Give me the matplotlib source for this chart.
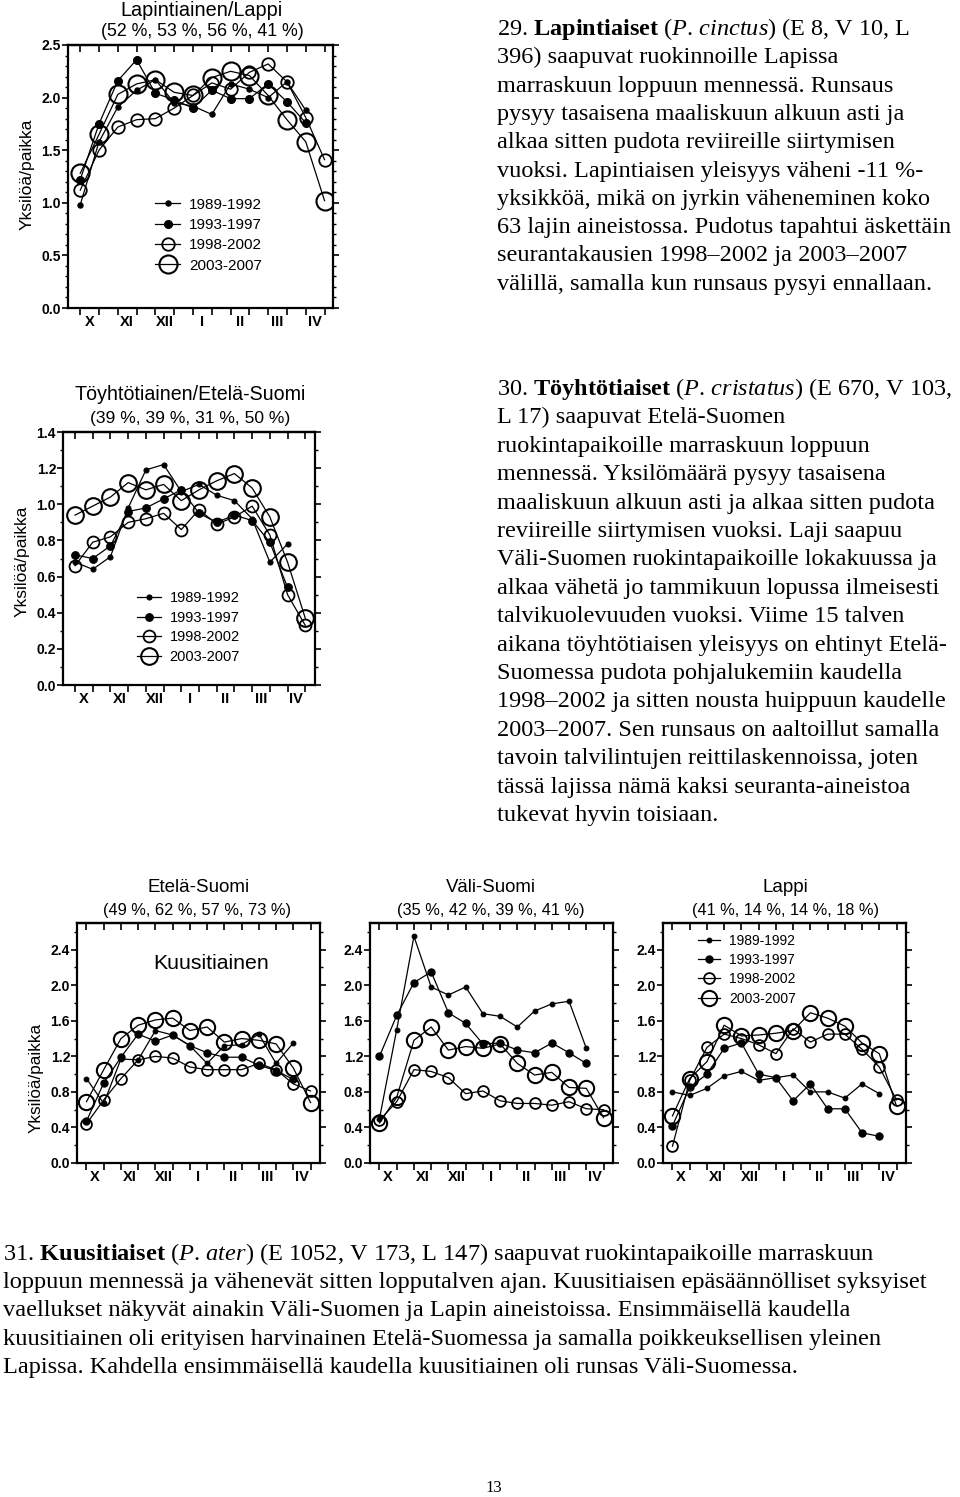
import numpy as np
import matplotlib
matplotlib.use('Agg')
import matplotlib.pyplot as plt

plt.rcParams['font.family'] = ['Liberation Sans', 'DejaVu Sans']
plt.rcParams['mathtext.fontset'] = 'custom'
plt.rcParams['mathtext.rm'] = 'Liberation Serif'
plt.rcParams['mathtext.it'] = 'Liberation Serif:italic'
plt.rcParams['mathtext.bf'] = 'Liberation Serif:bold'

# ---------------- data ----------------
months = ['X', 'XI', 'XII', 'I', 'II', 'III', 'IV']
periods = [f'{m}/{h}' for m in months for h in (1, 2)]   # 14 half-month periods
series_names = ['1989-1992', '1993-1997', '1998-2002', '2003-2007']

# Lapintiainen / Lappi
lap_title = 'Lapintiainen/Lappi'
lap_pct = '(52 %, 53 %, 56 %, 41 %)'
lap_8992 = [0.98, 1.58, 1.91, 2.07, 2.17, 1.95, 1.92, 1.84, 2.13, 2.08, 2.00, 2.15, 1.88]
lap_9397 = [1.22, 1.75, 2.16, 2.36, 2.04, 1.98, 1.90, 2.07, 1.99, 1.99, 2.13, 1.96, 1.76]
lap_9802 = [1.12, 1.50, 1.72, 1.79, 1.80, 1.90, 2.02, 2.14, 2.08, 2.24, 2.32, 2.15, 1.81, 1.41]
lap_0307 = [1.28, 1.65, 2.03, 2.13, 2.17, 2.05, 2.02, 2.19, 2.25, 2.21, 2.02, 1.79, 1.58, 1.02]

# Töyhtötiainen / Etelä-Suomi
toy_title = 'Töyhtötiainen/Etelä-Suomi'
toy_pct = '(39 %, 39 %, 31 %, 50 %)'
toy_8992 = [0.68, 0.64, 0.71, 0.98, 1.19, 1.22, 1.07, 1.11, 1.05, 1.02, 0.92, 0.68, 0.78]
toy_9397 = [0.72, 0.70, 0.77, 0.96, 0.98, 1.03, 1.08, 0.95, 0.90, 0.94, 0.91, 0.79, 0.54]
toy_9802 = [0.66, 0.79, 0.82, 0.90, 0.92, 0.95, 0.86, 0.97, 0.89, 0.93, 0.99, 0.83, 0.50, 0.33]
toy_0307 = [0.94, 0.99, 1.04, 1.12, 1.08, 1.11, 1.02, 1.08, 1.13, 1.17, 1.09, 0.93, 0.68, 0.37]

# Kuusitiainen
kuu_label = 'Kuusitiainen'
kuu_e_title = 'Etelä-Suomi'
kuu_e_pct = '(49 %, 62 %, 57 %, 73 %)'
kuu_e_8992 = [0.95, 0.67, 1.17, 1.16, 1.49, 1.44, 1.32, 1.12, 1.32, 1.33, 1.45, 1.12, 1.35]
kuu_e_9397 = [0.47, 0.90, 1.19, 1.45, 1.37, 1.44, 1.32, 1.24, 1.19, 1.19, 1.10, 1.04, 0.94]
kuu_e_9802 = [0.44, 0.71, 0.95, 1.16, 1.20, 1.18, 1.08, 1.05, 1.05, 1.05, 1.12, 1.05, 0.89, 0.81]
kuu_e_0307 = [0.69, 1.05, 1.40, 1.55, 1.61, 1.63, 1.49, 1.53, 1.36, 1.40, 1.38, 1.34, 1.07, 0.68]

kuu_v_title = 'Väli-Suomi'
kuu_v_pct = '(35 %, 42 %, 39 %, 41 %)'
kuu_v_8992 = [0.50, 1.50, 2.55, 1.98, 1.89, 1.98, 1.68, 1.65, 1.53, 1.71, 1.79, 1.82, 1.29]
kuu_v_9397 = [1.20, 1.66, 2.03, 2.15, 1.69, 1.57, 1.34, 1.35, 1.27, 1.24, 1.35, 1.24, 1.12]
kuu_v_9802 = [0.48, 0.69, 1.05, 1.03, 0.96, 0.78, 0.81, 0.70, 0.67, 0.67, 0.65, 0.69, 0.61, 0.60]
kuu_v_0307 = [0.45, 0.74, 1.38, 1.53, 1.27, 1.31, 1.29, 1.34, 1.12, 0.99, 1.02, 0.85, 0.84, 0.51]

kuu_l_title = 'Lappi'
kuu_l_pct = '(41 %, 14 %, 14 %, 18 %)'
kuu_l_8992 = [0.80, 0.76, 0.84, 0.98, 1.03, 0.93, 0.96, 0.99, 0.80, 0.80, 0.73, 0.89, 0.78]
kuu_l_9397 = [0.42, 0.85, 1.00, 1.29, 1.35, 1.00, 0.96, 0.70, 0.89, 0.61, 0.61, 0.34, 0.30]
kuu_l_9802 = [0.19, 0.93, 1.30, 1.45, 1.40, 1.33, 1.23, 1.51, 1.36, 1.45, 1.45, 1.28, 1.08, 0.71]
kuu_l_0307 = [0.53, 0.95, 1.14, 1.55, 1.43, 1.44, 1.46, 1.49, 1.69, 1.63, 1.54, 1.35, 1.23, 0.64]

ylabel_text = 'Yksilöä/paikka'

text29 = [
    r'29. $\mathbf{Lapintiaiset}$ ($\mathit{P.}\,\mathit{cinctus}$) (E 8, V 10, L',
    '396) saapuvat ruokinnoille Lapissa',
    'marraskuun loppuun mennessä. Runsaus',
    'pysyy tasaisena maaliskuun alkuun asti ja',
    'alkaa sitten pudota reviireille siirtymisen',
    'vuoksi. Lapintiaisen yleisyys väheni -11 %-',
    'yksikköä, mikä on jyrkin väheneminen koko',
    '63 lajin aineistossa. Pudotus tapahtui äskettäin',
    'seurantakausien 1998–2002 ja 2003–2007',
    'välillä, samalla kun runsaus pysyi ennallaan.',
]
text30 = [
    r'30. $\mathbf{Töyhtötiaiset}$ ($\mathit{P.}\,\mathit{cristatus}$) (E 670, V 103,',
    'L 17) saapuvat Etelä-Suomen',
    'ruokintapaikoille marraskuun loppuun',
    'mennessä. Yksilömäärä pysyy tasaisena',
    'maaliskuun alkuun asti ja alkaa sitten pudota',
    'reviireille siirtymisen vuoksi. Laji saapuu',
    'Väli-Suomen ruokintapaikoille lokakuussa ja',
    'alkaa vähetä jo tammikuun lopussa ilmeisesti',
    'talvikuolevuuden vuoksi. Viime 15 talven',
    'aikana töyhtötiaisen yleisyys on ehtinyt Etelä-',
    'Suomessa pudota pohjalukemiin kaudella',
    '1998–2002 ja sitten nousta huippuun kaudelle',
    '2003–2007. Sen runsaus on aaltoillut samalla',
    'tavoin talvilintujen reittilaskennoissa, joten',
    'tässä lajissa nämä kaksi seuranta-aineistoa',
    'tukevat hyvin toisiaan.',
]
text31 = [
    r'31. $\mathbf{Kuusitiaiset}$ ($\mathit{P.}\,\mathit{ater}$) (E 1052, V 173, L 147) saapuvat ruokintapaikoille marraskuun',
    'loppuun mennessä ja vähenevät sitten lopputalven ajan. Kuusitiaisen epäsäännölliset syksyiset',
    'vaellukset näkyvät ainakin Väli-Suomen ja Lapin aineistoissa. Ensimmäisellä kaudella',
    'kuusitiainen oli erityisen harvinainen Etelä-Suomessa ja samalla poikkeuksellisen yleinen',
    'Lapissa. Kahdella ensimmäisellä kaudella kuusitiainen oli runsas Väli-Suomessa.',
]
page_no = '13'

# ---------------- figure ----------------
W, H = 960, 1497
fig = plt.figure(figsize=(W / 100, H / 100), dpi=100)


def px_axes(left, right, top, bottom):
    return fig.add_axes([left / W, 1 - bottom / H, (right - left) / W, (bottom - top) / H])


def draw_chart(ax, data, xlim, ylim, ymajor, yminor, msizes, legend_at=None, legend_fs=10.5,
               legend_spacing=0.45):
    styles = [
        dict(marker='o', ms=msizes[0], mfc='black', mec='black', mew=0.8),
        dict(marker='o', ms=msizes[1], mfc='black', mec='black', mew=0.8),
        dict(marker='o', ms=msizes[2], mfc='none', mec='black', mew=1.3),
        dict(marker='o', ms=msizes[3], mfc='none', mec='black', mew=1.5),
    ]
    for vals, name, st in zip(data, series_names, styles):
        xs = np.arange(len(vals))
        ax.plot(xs, vals, color='black', lw=0.9, label=name, **st)
    ax.set_xlim(*xlim)
    ax.set_ylim(*ylim)
    for s in ax.spines.values():
        s.set_linewidth(1.6)
    # bottom ticks at every half-month, month labels between the pairs
    ax.set_xticks(np.arange(len(periods)))
    ax.set_xticklabels([])
    ax.set_xticks(np.arange(len(months)) * 2 + 0.5, labels=months, minor=True,
                  fontweight='bold', fontsize=10.5)
    ax.tick_params(axis='x', which='major', direction='out', length=5, width=1.2)
    ax.tick_params(axis='x', which='minor', length=0, pad=5)
    # y ticks
    yt = np.arange(0, ylim[1] + 1e-9, ymajor)
    ax.set_yticks(yt, labels=[f'{v:.1f}' for v in yt], fontweight='bold', fontsize=10)
    ax.set_yticks(np.arange(0, ylim[1] + 1e-9, yminor), minor=True)
    ax.tick_params(axis='y', which='major', direction='out', length=4, width=1.2, pad=1,
                   right=True)
    ax.tick_params(axis='y', which='minor', direction='out', length=2.5, width=1.0, right=True)
    # top ticks pointing inwards
    sec = ax.secondary_xaxis('top')
    sec.set_xticks(np.arange(len(periods)))
    sec.set_xticklabels([])
    sec.tick_params(direction='in', length=5, width=1.2)
    sec.spines['top'].set_linewidth(1.6)
    if legend_at is not None:
        ax.legend(loc='upper left', bbox_to_anchor=legend_at, frameon=False,
                  fontsize=legend_fs, handlelength=1.6, handletextpad=0.6,
                  labelspacing=legend_spacing, borderpad=0, borderaxespad=0)


def ftext(x, y, s, **kw):
    fig.text(x / W, 1 - y / H, s, **kw)


# Chart 1
ax1 = px_axes(68, 333, 45, 308)
draw_chart(ax1, [lap_8992, lap_9397, lap_9802, lap_0307], (-0.65, 13.45), (0, 2.5), 0.5, 0.1,
           [3.8, 5.7, 9.0, 13.0], legend_at=(0.33, 0.42), legend_fs=11, legend_spacing=0.42)
ftext(202, 11, lap_title, ha='center', va='center', fontsize=14.3)
ftext(202, 32, lap_pct, ha='center', va='center', fontsize=12.8)
ftext(27, 174, ylabel_text, ha='center', va='center', rotation=90, fontsize=12.6)

# Chart 2
ax2 = px_axes(63, 315, 432, 685)
draw_chart(ax2, [toy_8992, toy_9397, toy_9802, toy_0307], (-0.68, 13.55), (0, 1.4), 0.2, 0.1,
           [3.6, 5.5, 8.6, 12.0], legend_at=(0.295, 0.37), legend_fs=10.5, legend_spacing=0.38)
ftext(190, 395, toy_title, ha='center', va='center', fontsize=14.1)
ftext(190, 418, toy_pct, ha='center', va='center', fontsize=12.6)
ftext(22, 561, ylabel_text, ha='center', va='center', rotation=90, fontsize=12.6)

# Bottom row
bottom_msz = [3.4, 5.2, 7.8, 11.0]
ax3 = px_axes(77, 320, 923, 1163)
draw_chart(ax3, [kuu_e_8992, kuu_e_9397, kuu_e_9802, kuu_e_0307], (-0.55, 13.55), (0, 2.7),
           0.4, 0.2, bottom_msz)
ax3.text(0.55, 0.83, kuu_label, transform=ax3.transAxes, ha='center', va='center', fontsize=15.3)
ftext(199, 888, kuu_e_title, ha='center', va='center', fontsize=13.5)
ftext(197, 911, kuu_e_pct, ha='center', va='center', fontsize=11.8)
ftext(36, 1078, ylabel_text, ha='center', va='center', rotation=90, fontsize=12.3)

ax4 = px_axes(370, 613, 923, 1163)
draw_chart(ax4, [kuu_v_8992, kuu_v_9397, kuu_v_9802, kuu_v_0307], (-0.55, 13.55), (0, 2.7),
           0.4, 0.2, bottom_msz)
ftext(491, 888, kuu_v_title, ha='center', va='center', fontsize=13.4)
ftext(491, 911, kuu_v_pct, ha='center', va='center', fontsize=11.8)

ax5 = px_axes(663, 906, 923, 1163)
draw_chart(ax5, [kuu_l_8992, kuu_l_9397, kuu_l_9802, kuu_l_0307], (-0.55, 13.55), (0, 2.7),
           0.4, 0.2, bottom_msz, legend_at=(0.145, 0.955), legend_fs=10, legend_spacing=0.38)
ftext(785, 888, kuu_l_title, ha='center', va='center', fontsize=13.5)
ftext(785, 911, kuu_l_pct, ha='center', va='center', fontsize=11.8)

# Body text
serif = ['Liberation Serif', 'DejaVu Serif']
for i, line in enumerate(text29):
    ftext(497, 35 + 28.3 * i, line, ha='left', va='baseline', fontsize=17.5, family=serif)
for i, line in enumerate(text30):
    ftext(497, 395 + 28.4 * i, line, ha='left', va='baseline', fontsize=17.5, family=serif)
for i, line in enumerate(text31):
    ftext(3, 1260 + 28.2 * i, line, ha='left', va='baseline', fontsize=17.6, family=serif)
ftext(494, 1488, page_no, ha='center', va='center', fontsize=12, family=serif)

fig.savefig('out.png', dpi=100)
